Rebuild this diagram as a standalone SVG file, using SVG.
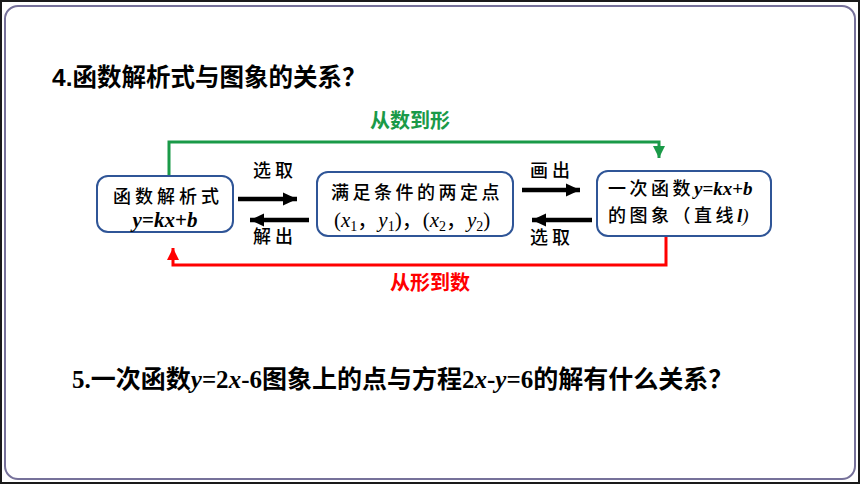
<svg xmlns="http://www.w3.org/2000/svg" width="860" height="484" viewBox="0 0 860 484">
<style>
.cjkb{font-family:"Noto Sans CJK SC","Liberation Sans",sans-serif;font-weight:700;}
.cjk{font-family:"Noto Sans CJK SC","Liberation Sans",sans-serif;font-weight:500;font-size:18px;fill:#000;}
.tm{font-family:"Liberation Serif","Times New Roman",serif;}
.box{fill:#fff;stroke:#2f5597;stroke-width:2;}
.blk{stroke:#000;stroke-width:4.5;fill:none;}
.grn{stroke:#1a9a48;stroke-width:3;fill:none;}
.red{stroke:#ff0000;stroke-width:3;fill:none;}
</style>
<defs>
<marker id="ab" markerUnits="userSpaceOnUse" markerWidth="16" markerHeight="16" refX="14" refY="8" orient="auto"><path d="M0,1.5 L14,8 L0,14.5 Z" fill="#000"/></marker>
<marker id="ag" markerUnits="userSpaceOnUse" markerWidth="14" markerHeight="14" refX="12" refY="7" orient="auto"><path d="M0,1 L12,7 L0,13 Z" fill="#1a9a48"/></marker>
<marker id="ar" markerUnits="userSpaceOnUse" markerWidth="14" markerHeight="14" refX="12" refY="7" orient="auto"><path d="M0,1 L12,7 L0,13 Z" fill="#ff0000"/></marker>
</defs>
<rect x="0" y="0" width="860" height="484" fill="#fff"/>
<rect x="1" y="1" width="858" height="482" fill="none" stroke="#1a1a1a" stroke-width="2"/>
<rect x="5" y="6" width="850" height="473" rx="13" fill="none" stroke="#76719a" stroke-width="2"/>

<text class="cjkb" x="52" y="86" font-size="24.5" fill="#000"><tspan font-family="Liberation Sans, sans-serif">4.</tspan>函数解析式与图象的关系？</text>

<g id="connectors">
<path class="grn" d="M169,175 V142 H659 V158" marker-end="url(#ag)"/>
<path class="red" d="M666,236 V265 H173 V248" marker-end="url(#ar)"/>
<line class="blk" x1="238" y1="199" x2="297" y2="199" marker-end="url(#ab)"/>
<line class="blk" x1="309" y1="220" x2="250" y2="220" marker-end="url(#ab)"/>
<line class="blk" x1="522" y1="190" x2="580" y2="190" marker-end="url(#ab)"/>
<line class="blk" x1="592" y1="220" x2="532" y2="220" marker-end="url(#ab)"/>
<text class="cjk" x="253" y="177" letter-spacing="4">选取</text>
<text class="cjk" x="253" y="243" letter-spacing="4">解出</text>
<text class="cjk" x="530" y="177" letter-spacing="4">画出</text>
<text class="cjk" x="530" y="244" letter-spacing="4">选取</text>
<text class="cjkb" x="410" y="128" font-size="20" fill="#1a9a48" text-anchor="middle">从数到形</text>
<text class="cjkb" x="430" y="290" font-size="20" fill="#ff0000" text-anchor="middle">从形到数</text>
</g>

<g id="node1">
<rect class="box" x="97" y="176" width="136" height="56" rx="11"/>
<text class="cjk" x="113" y="203" letter-spacing="4">函数解析式</text>
<text class="tm" x="165" y="227" font-size="21" font-weight="700" font-style="italic" text-anchor="middle">y<tspan font-style="normal">=</tspan>kx<tspan font-style="normal">+</tspan>b</text>
</g>

<g id="node2">
<rect class="box" x="317" y="172" width="196" height="64" rx="11"/>
<text class="cjk" x="331" y="199" letter-spacing="3.5">满足条件的两定点</text>
<text class="tm" x="334" y="227" font-size="21">(<tspan font-style="italic">x</tspan><tspan font-size="14" dy="4">1</tspan><tspan dy="-4" font-family="Noto Sans CJK SC, sans-serif">，</tspan><tspan font-style="italic">y</tspan><tspan font-size="14" dy="4">1</tspan><tspan dy="-4">)</tspan><tspan font-family="Noto Sans CJK SC, sans-serif">，</tspan>(<tspan font-style="italic">x</tspan><tspan font-size="14" dy="4">2</tspan><tspan dy="-4" font-family="Noto Sans CJK SC, sans-serif">，</tspan><tspan font-style="italic">y</tspan><tspan font-size="14" dy="4">2</tspan><tspan dy="-4">)</tspan></text>
</g>

<g id="node3">
<rect class="box" x="597" y="171" width="174" height="65" rx="11"/>
<text class="cjk" x="608" y="195"><tspan letter-spacing="3.5">一次函数</tspan><tspan class="tm" font-size="19" font-weight="700" font-style="italic">y<tspan font-style="normal">=</tspan>kx<tspan font-style="normal">+</tspan>b</tspan></text>
<text class="cjk" x="608" y="222"><tspan letter-spacing="3.5">的图象（直线</tspan><tspan class="tm" font-size="19" font-weight="700" font-style="italic">l</tspan><tspan class="tm" font-size="19" font-style="italic">)</tspan></text>
</g>

<text class="cjkb" x="72" y="388" font-size="25" fill="#000"><tspan class="tm">5.</tspan>一次函数<tspan class="tm" font-style="italic">y</tspan><tspan class="tm">=2</tspan><tspan class="tm" font-style="italic">x</tspan><tspan class="tm">-6</tspan>图象上的点与方程<tspan class="tm">2</tspan><tspan class="tm" font-style="italic">x</tspan><tspan class="tm">-</tspan><tspan class="tm" font-style="italic">y</tspan><tspan class="tm">=6</tspan>的解有什么关系？</text>
</svg>
